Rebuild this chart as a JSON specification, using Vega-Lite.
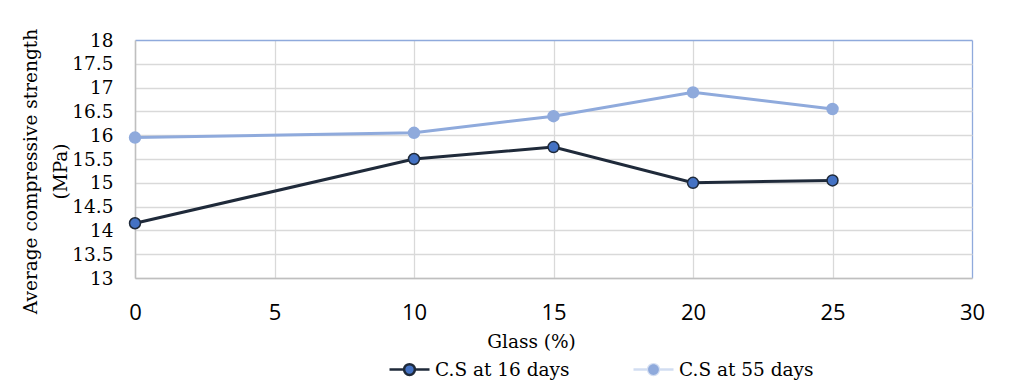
{
  "$schema": "https://vega.github.io/schema/vega-lite/v6.json",
  "width": 837,
  "height": 238,
  "autosize": {"type": "none"},
  "padding": {"left": 135, "top": 40, "right": 47, "bottom": 104},
  "background": "white",
  "config": {
    "font": "DejaVu Serif",
    "view": {"stroke": null},
    "axis": {
      "labelFont": "DejaVu Serif",
      "titleFont": "DejaVu Serif",
      "labelFontSize": 18.5,
      "titleFontSize": 18.5,
      "labelColor": "#000000",
      "titleColor": "#000000",
      "titleFontWeight": "normal",
      "gridWidth": 1.3,
      "domainColor": "#BFBFBF",
      "domainWidth": 1.5,
      "ticks": false
    }
  },
  "data": {
    "values": [
      {"glass": 0, "cs": 14.15, "series": "C.S at 16 days"},
      {"glass": 10, "cs": 15.5, "series": "C.S at 16 days"},
      {"glass": 15, "cs": 15.75, "series": "C.S at 16 days"},
      {"glass": 20, "cs": 15.0, "series": "C.S at 16 days"},
      {"glass": 25, "cs": 15.05, "series": "C.S at 16 days"},
      {"glass": 0, "cs": 15.95, "series": "C.S at 55 days"},
      {"glass": 10, "cs": 16.05, "series": "C.S at 55 days"},
      {"glass": 15, "cs": 16.4, "series": "C.S at 55 days"},
      {"glass": 20, "cs": 16.9, "series": "C.S at 55 days"},
      {"glass": 25, "cs": 16.55, "series": "C.S at 55 days"}
    ]
  },
  "encoding": {
    "x": {
      "field": "glass", "type": "quantitative",
      "scale": {"domain": [0, 30], "nice": false},
      "axis": {
        "values": [0, 5, 10, 15, 20, 25, 30],
        "labelFont": "Open Sans",
        "labelFontSize": 22,
        "labelFlush": false,
        "labelPadding": 24,
        "title": "Glass (%)",
        "titlePadding": 9,
        "titleX": 396,
        "gridColor": {"condition": {"test": "datum.value === 30", "value": "#8FAADC"}, "value": "#D9D9D9"}
      }
    },
    "y": {
      "field": "cs", "type": "quantitative",
      "scale": {"domain": [13, 18], "nice": false, "zero": false},
      "axis": {
        "values": [13, 13.5, 14, 14.5, 15, 15.5, 16, 16.5, 17, 17.5, 18],
        "format": "~g",
        "labelPadding": 22,
        "labelFlush": false,
        "title": ["Average compressive strength", "(MPa)"],
        "titlePadding": 1,
        "titleLineHeight": 30,
        "titleY": 131,
        "gridColor": {"condition": {"test": "datum.value === 18", "value": "#8FAADC"}, "value": "#D9D9D9"}
      }
    }
  },
  "layer": [
    {
      "mark": {"type": "line", "strokeWidth": 3},
      "encoding": {
        "color": {
          "field": "series", "type": "nominal",
          "scale": {"domain": ["C.S at 16 days", "C.S at 55 days"], "range": ["#1F2A3A", "#8FAADC"]},
          "legend": {
            "title": null,
            "orient": "none",
            "direction": "horizontal",
            "legendX": 253,
            "legendY": 308,
            "labelFontSize": 18.5,
            "labelFont": "DejaVu Serif",
            "labelColor": "#000000",
            "symbolType": "M-1,0L-0.27,0M0.27,0L1,0M0.27,0A0.27,0.27 0 1,1 -0.27,0A0.27,0.27 0 1,1 0.27,0",
            "symbolSize": 1600,
            "symbolStrokeWidth": 2.5,
            "labelOffset": 4,
            "columnPadding": 58,
            "encode": {
              "symbols": {"update": {
                "fill": {"signal": "datum.value === 'C.S at 16 days' ? '#4472C4' : '#8FAADC'"},
                "strokeOpacity": {"signal": "datum.value === 'C.S at 16 days' ? 1 : 0.4"},
                "fillOpacity": {"value": 1}
              }}
            }
          }
        }
      }
    },
    {
      "mark": {"type": "point", "filled": true, "size": 120, "strokeWidth": 1.5, "opacity": 1},
      "encoding": {
        "fill": {
          "field": "series", "type": "nominal",
          "scale": {"domain": ["C.S at 16 days", "C.S at 55 days"], "range": ["#4472C4", "#8FAADC"]},
          "legend": null
        },
        "stroke": {
          "field": "series", "type": "nominal",
          "scale": {"domain": ["C.S at 16 days", "C.S at 55 days"], "range": ["#1F2A3A", "#8FAADC"]},
          "legend": null
        }
      }
    }
  ]
}
